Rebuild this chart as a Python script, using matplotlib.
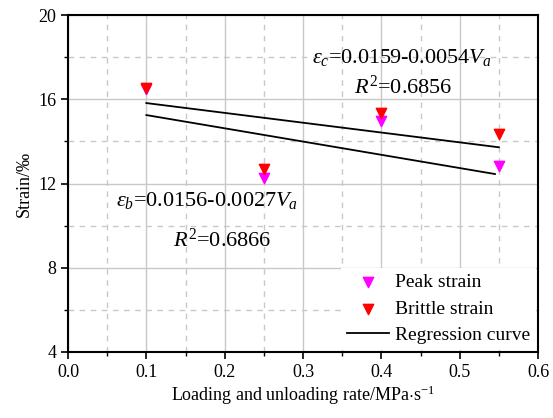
import matplotlib
matplotlib.use("Agg")
import matplotlib.pyplot as plt
from matplotlib.ticker import MultipleLocator

plt.rcParams["font.family"] = ["Liberation Serif", "DejaVu Serif"]
plt.rcParams["mathtext.fontset"] = "custom"
plt.rcParams["mathtext.rm"] = "Liberation Serif"
plt.rcParams["mathtext.it"] = "Liberation Serif:italic"

# loading and unloading rate (MPa/s)
rate = [0.1, 0.25, 0.4, 0.55]
peak_strain = [16.5, 12.25, 14.95, 12.85]
brittle_strain = [16.55, 12.7, 15.35, 14.35]

# regression lines, endpoints
reg_upper_x = [0.1, 0.55]
reg_upper_y = [15.82, 13.72]
reg_lower_x = [0.1, 0.545]
reg_lower_y = [15.25, 12.45]

fig = plt.figure(figsize=(5.53, 4.18), dpi=100)
ax = fig.add_axes([0.123, 0.158, 0.850, 0.806])

ax.scatter(rate, peak_strain, marker="v", s=55, color="#ff00ff", label="Peak strain", zorder=3)
ax.scatter(rate, brittle_strain, marker="v", s=55, color="#ff0000", label="Brittle strain", zorder=3)
ax.plot(reg_upper_x, reg_upper_y, color="black", lw=1.3, label="Regression curve", zorder=3)
ax.plot(reg_lower_x, reg_lower_y, color="black", lw=1.3, zorder=3)

ax.set_xlim(0, 0.6)
ax.set_ylim(4, 20)
ax.xaxis.set_major_locator(MultipleLocator(0.1))
ax.xaxis.set_minor_locator(MultipleLocator(0.05))
ax.yaxis.set_major_locator(MultipleLocator(4))
ax.yaxis.set_minor_locator(MultipleLocator(2))
ax.grid(which="major", color="#c8c8c8", lw=1.0, ls="-")
ax.grid(which="minor", color="#c8c8c8", lw=1.0, ls=(0, (4, 4)))
ax.set_axisbelow(True)

ax.tick_params(which="major", length=5, width=1.2, labelsize=13, direction="out")
ax.tick_params(which="minor", length=3, width=1.0, direction="out")
for s in ax.spines.values():
    s.set_linewidth(1.5)

ax.set_xlabel("Loading and unloading rate/MPa$\\cdot$s$^{-1}$", fontsize=13, labelpad=2)
ax.set_ylabel("Strain/‰", fontsize=13, labelpad=4)

eq_size = 16
ax.text(0.4265, 18.0, r"$\varepsilon_c$=0.0159-0.0054$V_a$", fontsize=eq_size, ha="center", va="center")
ax.text(0.4275, 16.55, r"$R^2$=0.6856", fontsize=eq_size, ha="center", va="center")
ax.text(0.178, 11.2, r"$\varepsilon_b$=0.0156-0.0027$V_a$", fontsize=eq_size, ha="center", va="center")
ax.text(0.197, 9.3, r"$R^2$=0.6866", fontsize=eq_size, ha="center", va="center")

leg = ax.legend(loc="lower right", fontsize=14, frameon=True, edgecolor="none",
                facecolor="white", framealpha=1, borderaxespad=0.1, handletextpad=0.3,
                labelspacing=0.45, handlelength=2.2, borderpad=0.3, fancybox=False)

fig.savefig("out.png", dpi=100)
